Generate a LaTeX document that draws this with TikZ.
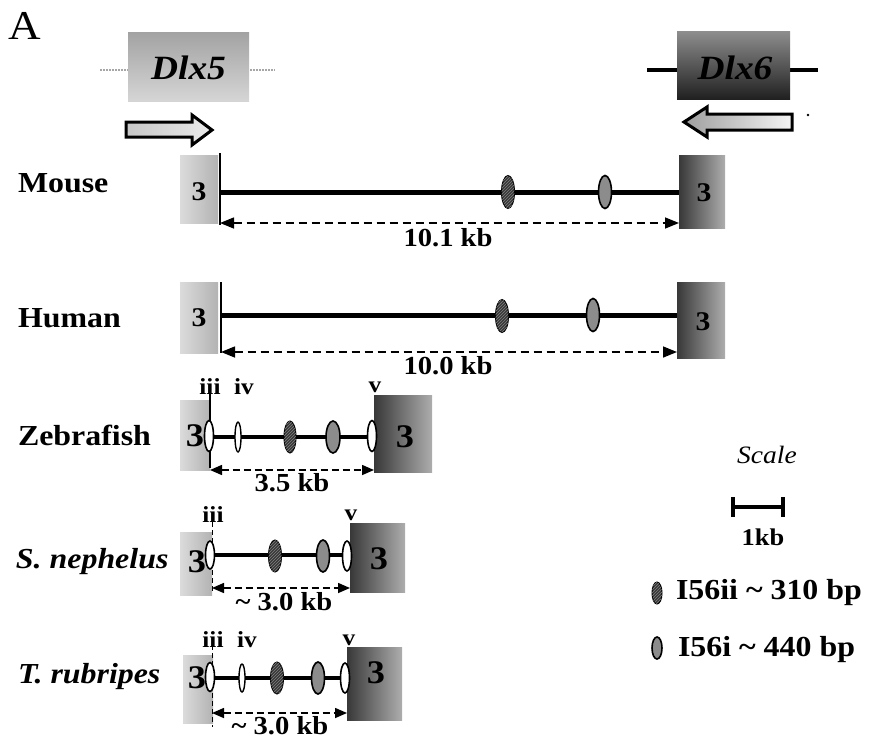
\documentclass[tikz,border=0pt]{standalone}
\usepackage{fontspec}
\setmainfont{Liberation Serif}[FakeStretch=1.1]
\usetikzlibrary{shapes.geometric,arrows.meta,patterns}

\begin{document}
\begin{tikzpicture}[x=1pt,y=-1pt,
  every node/.style={inner sep=0pt, outer sep=0pt},
  rowlab/.style={anchor=base west, font=\fontsize{29}{32}\selectfont\bfseries},
  splab/.style={anchor=base west, font=\fontsize{29}{32}\selectfont\bfseries\itshape},
  dimlab/.style={font=\fontsize{26}{28}\selectfont\bfseries},
  exlab/.style={font=\fontsize{23}{25}\selectfont\bfseries},
  numS/.style={font=\fontsize{27}{29}\selectfont\bfseries},
  numL/.style={font=\fontsize{33}{35}\selectfont\bfseries},
  gbox5/.style={rectangle, left color=black!14, right color=black!30},
  gbox6/.style={rectangle, left color=black!78, right color=black!32},
  gene/.style={line width=5pt},
  fgene/.style={line width=4.5pt},
  border/.style={line width=1.2pt},
  dborder/.style={line width=1pt, dash pattern=on 5pt off 3pt},
  dim/.style={line width=1.5pt, dash pattern=on 8pt off 5pt,
              {Triangle[length=14pt,width=11pt]}-{Triangle[length=14pt,width=11pt]}},
  fdim/.style={line width=1.5pt, dash pattern=on 7pt off 4pt,
              {Triangle[length=12pt,width=10pt]}-{Triangle[length=12pt,width=10pt]}},
  elA/.style={ellipse, draw=black, line width=1pt, fill=black!78,
              postaction={pattern=north east lines, pattern color=black!50},
              minimum width=13pt, minimum height=33pt},
  elB/.style={ellipse, draw=black, line width=1.6pt, fill=black!45,
              minimum width=13pt, minimum height=33pt},
  elO/.style={ellipse, draw=black, line width=1.6pt, fill=white,
              minimum width=9pt, minimum height=31pt},
  elN/.style={ellipse, draw=black, line width=1.4pt, fill=white,
              minimum width=6pt, minimum height=30pt},
  blockarrow/.style={draw=black, line width=3pt, line join=miter}
]
\useasboundingbox (0,0) rectangle (874,741);

% panel letter
\node[font=\fontsize{41}{43}\selectfont] (panel) at (25,26) {A};

% ---------------- genes on top ----------------
\coordinate (d5l) at (100,70);
\coordinate (d5r) at (275,70);
\draw[line width=1.5pt, black!35, dash pattern=on 2pt off 1pt] (d5l) -- (d5r);
\node[rectangle, top color=black!36, bottom color=black!16,
      minimum width=121pt, minimum height=69pt] (dlx5) at (188.5,67.5) {};
\node[font=\fontsize{34}{36}\selectfont\bfseries\itshape] (dlx5t) at (dlx5.center) {Dlx5};

\coordinate (d6l) at (647,70);
\coordinate (d6r) at (818,70);
\draw[line width=4pt] (d6l) -- (d6r);
\node[rectangle, top color=black!45, bottom color=black!88,
      minimum width=113pt, minimum height=68pt] (dlx6) at (733.5,66) {};
\node[font=\fontsize{34}{36}\selectfont\bfseries\itshape] (dlx6t) at (735,68) {Dlx6};

% transcription direction
\draw[blockarrow, left color=black!22, right color=black!8]
  (126,122) -- (192,122) -- (192,115) -- (212,130) -- (192,145) -- (192,137) -- (126,137) -- cycle;
\draw[blockarrow, left color=black!38, right color=black!4]
  (684,122) -- (707,107) -- (707,114) -- (792,114) -- (792,130) -- (707,130) -- (707,137) -- cycle;
\fill (808,115) circle (1.3pt);

% ---------------- Mouse ----------------
\node[rowlab] (mouse) at (18,192) {Mouse};
\node[gbox5, minimum width=38pt, minimum height=68pt] (m5) at (199,189) {};
\node[numS] at (199,192) {3};
\node[gbox6, minimum width=46pt, minimum height=73pt] (m6) at (702,191.5) {};
\node[numS] at (704,193) {3};
\coordinate (mL) at (220,192);
\draw[border] (220,153) -- (220,225);
\draw[gene] (mL) -- (mL -| m6.west);
\node[elA] (m1) at (508,192) {};
\node[elB] (m2) at (605,192) {};
\coordinate (mA) at (220,223);
\draw[dim] (mA) -- (mA -| m6.west);
\node[dimlab] (mT) at (448,238) {10.1 kb};

% ---------------- Human ----------------
\node[rowlab] (human) at (18,327) {Human};
\node[gbox5, minimum width=38pt, minimum height=71pt] (h5) at (199,317.5) {};
\node[numS] at (199,318) {3};
\node[gbox6, minimum width=48pt, minimum height=76pt] (h6) at (701,320) {};
\node[numS] at (703,322) {3};
\coordinate (hL) at (221,315);
\draw[border] (221,282) -- (221,353);
\draw[gene] (hL) -- (hL -| h6.west);
\node[elA] (h1) at (502,316) {};
\node[elB] (h2) at (593,315) {};
\coordinate (hA) at (221,352);
\draw[dim] (hA) -- (hA -| h6.west);
\node[dimlab] (hT) at (448,366) {10.0 kb};

% ---------------- Zebrafish ----------------
\node[rowlab] (zebra) at (18,445) {Zebrafish};
\node[gbox5, minimum width=30pt, minimum height=70pt] (z5) at (195,435) {};
\node[numL] at (195,436) {3};
\node[gbox6, minimum width=58pt, minimum height=77pt] (z6) at (403,433.5) {};
\node[numL] at (405,437) {3};
\coordinate (zL) at (210,437);
\draw[border] (210,393) -- (210,468);
\draw[fgene] (zL) -- (zL -| z6.west);
\node[elO] (z0) at (209,436) {};
\node[elN] (z4) at (238,437) {};
\node[elA, minimum width=12pt, minimum height=32pt] (z1) at (290,437) {};
\node[elB, minimum width=14pt, minimum height=32pt] (z2) at (333,437) {};
\node[elO] (z9) at (372,436) {};
\node[exlab] at (210,387) {iii};
\node[exlab] at (244,387) {iv};
\node[exlab] at (375,387) {v};
\coordinate (zA) at (210,470);
\draw[fdim] (zA) -- (zA -| z6.west);
\node[dimlab] (zT) at (292,483) {3.5 kb};

% ---------------- S. nephelus ----------------
\node[splab] (sneph) at (16,568) {S. nephelus};
\node[gbox5, minimum width=32pt, minimum height=63pt] (s5) at (196,563.5) {};
\node[numL] at (197,562) {3};
\node[gbox6, minimum width=55pt, minimum height=69pt] (s6) at (377.5,557.5) {};
\node[numL] at (379,559) {3};
\coordinate (sL) at (212,555);
\draw[dborder] (212,522) -- (212,593);
\draw[fgene] (sL) -- (sL -| s6.west);
\node[elO, minimum height=28pt] (s0) at (210,555) {};
\node[elA, minimum width=13pt, minimum height=32pt] (s1) at (275,556) {};
\node[elB, minimum width=13pt, minimum height=32pt] (s2) at (323,556) {};
\node[elO, minimum height=30pt] (s9) at (347,556) {};
\node[exlab] at (213,515) {iii};
\node[exlab] at (351,515) {v};
\coordinate (sA) at (212,588);
\draw[fdim] (sA) -- (sA -| s6.west);
\node[dimlab] (sT) at (284,602) {\char"7E\ 3.0 kb};

% ---------------- T. rubripes ----------------
\node[splab] (trub) at (18,683) {T. rubripes};
\node[gbox5, minimum width=30pt, minimum height=68pt] (t5) at (198,689) {};
\node[numL] at (197,678) {3};
\node[gbox6, minimum width=55pt, minimum height=73pt] (t6) at (374.5,683.5) {};
\node[numL] at (376,673) {3};
\coordinate (tL) at (212,678);
\draw[dborder] (212,645) -- (212,727);
\draw[fgene] (tL) -- (tL -| t6.west);
\node[elO, minimum height=29pt] (t0) at (210,677) {};
\node[elN, minimum height=28pt] (t4) at (242,678) {};
\node[elA, minimum width=13pt, minimum height=32pt] (t1) at (277,678) {};
\node[elB, minimum width=13pt, minimum height=32pt] (t2) at (318,678) {};
\node[elO, minimum height=30pt] (t9) at (345,678) {};
\node[exlab] at (213,640) {iii};
\node[exlab] at (247,640) {iv};
\node[exlab] at (349,640) {v};
\coordinate (tA) at (212,713);
\draw[fdim] (tA) -- (tA -| t6.west);
\node[dimlab] (tT) at (280,726) {\char"7E\ 3.0 kb};

% ---------------- scale and key ----------------
\node[font=\fontsize{25}{27}\selectfont\itshape] (scale) at (767,455) {Scale};
\coordinate (sb1) at (733,507);
\coordinate (sb2) at (783,507);
\draw[line width=4pt] (sb1) -- (sb2);
\draw[line width=3.5pt] (733,497) -- (733,517) (783,497) -- (783,517);
\node[font=\fontsize{24}{26}\selectfont\bfseries] (kb) at (763,537) {1kb};

\node[elA, minimum width=10pt, minimum height=22pt] (k1) at (657,593) {};
\node[font=\fontsize{29}{31}\selectfont\bfseries, anchor=west] (k1t) at (676,593) {I56ii \char"7E\ 310 bp};
\node[elB, minimum width=10pt, minimum height=22pt] (k2) at (657,648) {};
\node[font=\fontsize{29}{31}\selectfont\bfseries, anchor=west] (k2t) at (678,650) {I56i \char"7E\ 440 bp};
\end{tikzpicture}
\end{document}
